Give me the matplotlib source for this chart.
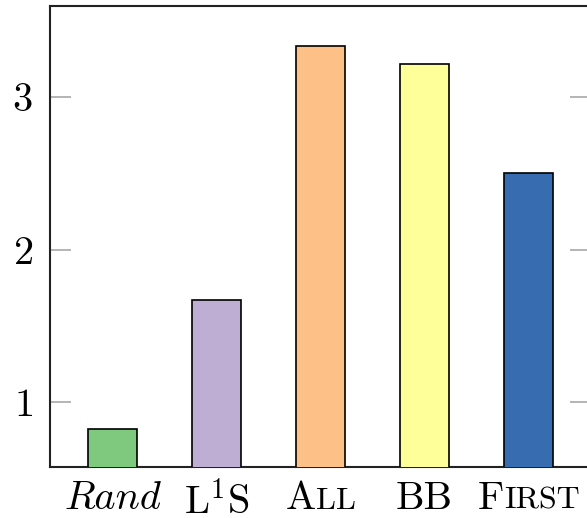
import matplotlib
matplotlib.use('Agg')
import matplotlib.pyplot as plt
from matplotlib.offsetbox import TextArea, HPacker, AnnotationBbox

plt.rcParams['font.family'] = 'cmr10'
plt.rcParams['mathtext.fontset'] = 'cm'
plt.rcParams['axes.formatter.use_mathtext'] = True

# データ
methods = ['Rand', 'L1S', 'All', 'BB', 'First']
scores = [0.824, 1.673, 3.333, 3.216, 2.503]
colors = ['#7fc97f', '#beaed4', '#fdc086', '#ffff99', '#386cb0']

# ラベル（スモールキャップ風に分割: (文字列, サイズ, フォント)）
BIG = 29
SMALL = 23
label_parts = [
    [('Rand', BIG, 'cmmi10')],
    [(r'$\mathrm{L}^{1}\mathrm{S}$', BIG, 'cmr10')],
    [('A', BIG, 'cmr10'), ('LL', SMALL, 'cmr10')],
    [('BB', BIG, 'cmr10')],
    [('F', BIG, 'cmr10'), ('IRST', SMALL, 'cmr10')],
]

fig = plt.figure(figsize=(5.87, 5.18), dpi=100)
ax = fig.add_axes([50 / 587, 51 / 518, 541 / 587, 460.5 / 518])

x = list(range(len(methods)))
ax.bar(x, scores, width=0.47, color=colors, edgecolor='black', linewidth=1.2, zorder=3)

ax.set_xlim(-0.6, 4.6)
ax.set_ylim(0.575, 3.594)
ax.set_yticks([1, 2, 3])
ax.set_xticks(x)
ax.set_xticklabels([''] * len(x))

ax.tick_params(axis='y', direction='in', length=15, width=1.1, color='#a0a0a0',
               right=True, labelsize=BIG, pad=12.5)
ax.tick_params(axis='x', length=0)

for s in ax.spines.values():
    s.set_linewidth(1.5)
    s.set_color('#222222')

# x軸ラベル
for xi, parts in zip(x, label_parts):
    children = [TextArea(t, textprops=dict(fontsize=fs, family=fam)) for t, fs, fam in parts]
    box = HPacker(children=children, align='baseline', pad=0, sep=0)
    ab = AnnotationBbox(box, (xi, 0), xycoords=ax.get_xaxis_transform(),
                        xybox=(0, -10), boxcoords='offset points',
                        box_alignment=(0.5, 1), frameon=False, pad=0,
                        annotation_clip=False)
    ax.add_artist(ab)

plt.savefig('out.png', dpi=100)
